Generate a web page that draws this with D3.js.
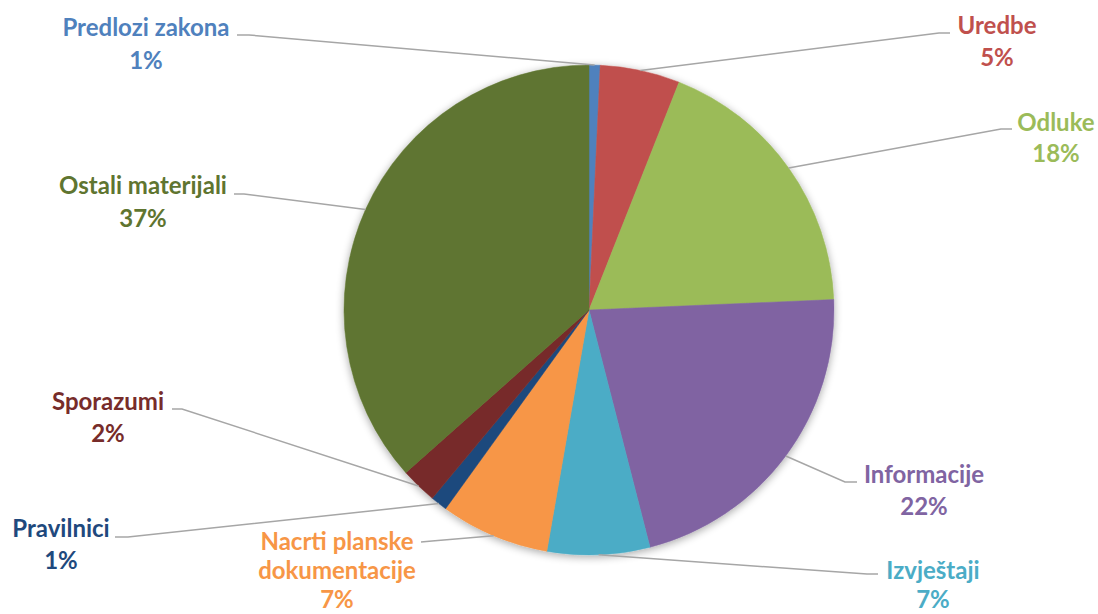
<!DOCTYPE html>
<html>
<head>
<meta charset="utf-8">
<script src="https://cdn.jsdelivr.net/npm/d3@7"></script>
<style>
html,body{margin:0;padding:0;background:#fff;}
svg{display:block;}
</style>
</head>
<body>
<svg id="chart" width="1098" height="614"></svg>
<script>
const categories = ["Predlozi zakona","Uredbe","Odluke","Informacije","Izvještaji","Nacrti planske dokumentacije","Pravilnici","Sporazumi","Ostali materijali"];
const values = [0.73, 5.27, 18.35, 21.7, 6.77, 7.2, 1.1, 2.4, 36.6];
const colors = ["#4F81BD","#C0504D","#9BBB59","#8064A2","#4BACC6","#F79646","#1F497D","#772C2A","#5F7530"];
const labelLines = [["Predlozi zakona"],["Uredbe"],["Odluke"],["Informacije"],["Izvještaji"],["Nacrti planske","dokumentacije"],["Pravilnici"],["Sporazumi"],["Ostali materijali"]];

// label layout: text centre x, first baseline y, line gap, leader end point, bend point
const labelLayout = [
  {cx:146, by:36,  gap:33, end:[237,35],  bend:[249,35]},
  {cx:997, by:34,  gap:32, end:[950,33],  bend:[939,33]},
  {cx:1056,by:131, gap:31, end:[1012,129],bend:[1001,129]},
  {cx:924, by:483, gap:32, end:[857,482], bend:[845,482]},
  {cx:933, by:579, gap:29, end:[878,574], bend:[867,574]},
  {cx:337, by:550, gap:29, end:[421,542], bend:[432,541]},
  {cx:61,  by:537, gap:32, end:[115,537], bend:[128,537]},
  {cx:108, by:410, gap:32, end:[172,409], bend:[182,409]},
  {cx:143, by:194, gap:33, end:[234,194], bend:[244,194]}
];

const svg = d3.select("#chart");
const cx = 589, cy = 310, R = 245;

const defs = svg.append("defs");
const f = defs.append("filter").attr("id","shadow").attr("x","-20%").attr("y","-20%").attr("width","140%").attr("height","140%");
f.append("feGaussianBlur").attr("in","SourceAlpha").attr("stdDeviation",4).attr("result","blur");
f.append("feOffset").attr("in","blur").attr("dx",0).attr("dy",2).attr("result","off");
f.append("feComponentTransfer").attr("in","off").attr("result","soft")
  .append("feFuncA").attr("type","linear").attr("slope",0.35);
const m = f.append("feMerge");
m.append("feMergeNode").attr("in","soft");
m.append("feMergeNode").attr("in","SourceGraphic");

const data = categories.map((c,i)=>({name:c, value:values[i], color:colors[i], lines:labelLines[i], lay:labelLayout[i]}));
const pie = d3.pie().value(d=>d.value).sort(null);
const arcs = pie(data);
const arc = d3.arc().innerRadius(0).outerRadius(R);

const g = svg.append("g").attr("transform",`translate(${cx},${cy})`);
const pg = g.append("g").attr("filter","url(#shadow)");
pg.selectAll("path").data(arcs).join("path")
  .attr("d",arc)
  .attr("fill",d=>d.data.color)
  .attr("stroke",d=>d.data.color)
  .attr("stroke-width",0.5);

// leader lines
const total = d3.sum(values);
svg.append("g").selectAll("polyline").data(arcs).join("polyline")
  .attr("points",d=>{
    const a = (d.startAngle+d.endAngle)/2;
    const px = cx + R*Math.sin(a), py = cy - R*Math.cos(a);
    const L = d.data.lay;
    return [[px,py],L.bend,L.end].map(p=>p.join(",")).join(" ");
  })
  .attr("fill","none")
  .attr("stroke","#A6A6A6")
  .attr("stroke-width",1.5);

// labels
const lg = svg.append("g");
arcs.forEach(d=>{
  const L = d.data.lay;
  const pct = Math.round(d.data.value/total*100) + "%";
  const lines = d.data.lines.concat([pct]);
  const t = lg.append("text")
    .attr("text-anchor","middle")
    .attr("font-family","Lato, 'Open Sans', sans-serif")
    .attr("font-weight","bold")
    .attr("font-size","24px")
    .attr("fill",d.data.color);
  lines.forEach((s,i)=>{
    t.append("tspan").attr("x",L.cx).attr("y",L.by + i*L.gap).text(s);
  });
});
</script>
</body>
</html>
